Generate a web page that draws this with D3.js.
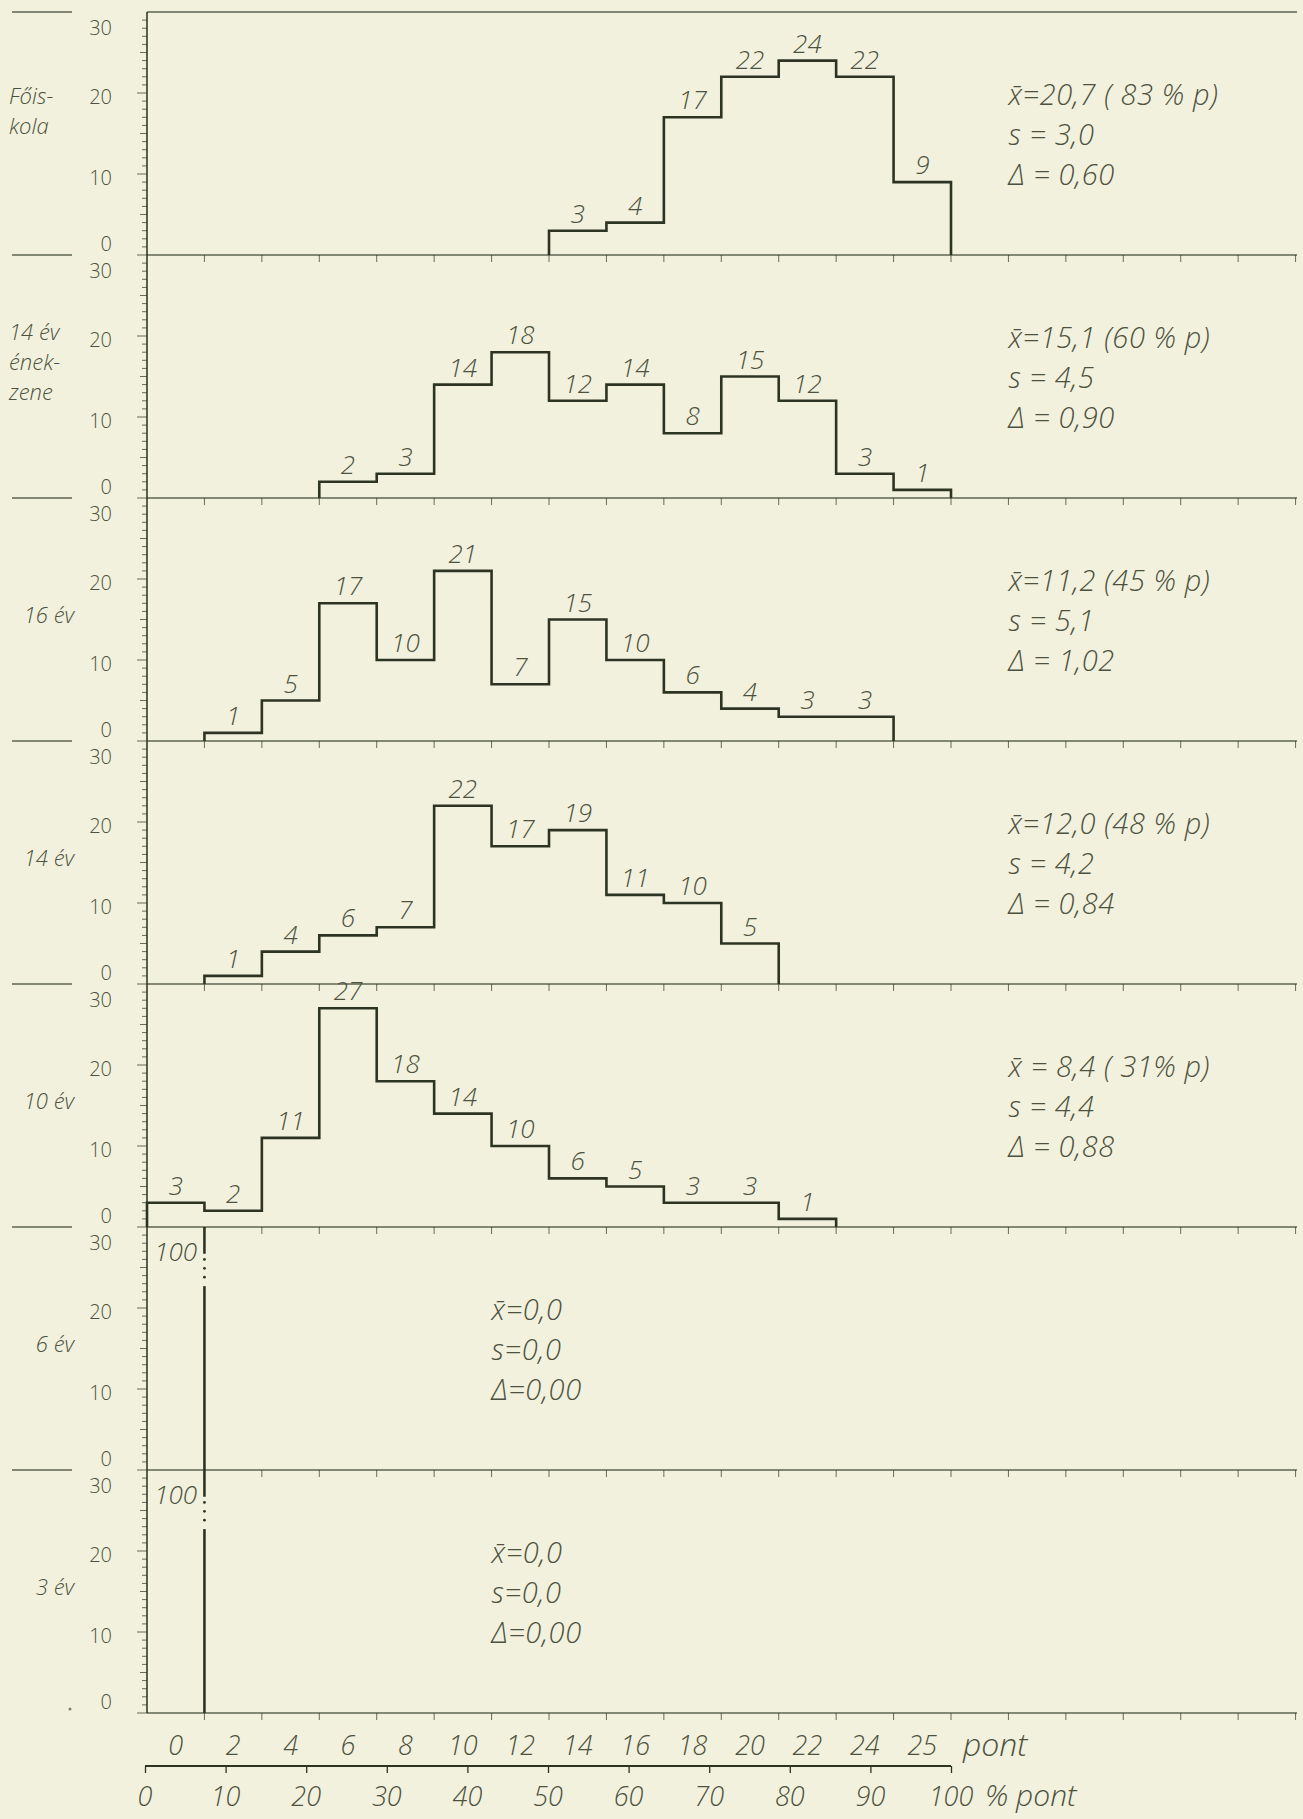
<!DOCTYPE html>
<html>
<head>
<meta charset="utf-8">
<script src="https://cdn.jsdelivr.net/npm/d3@7"></script>
<style>
	body { margin: 0; background: #f1f1dd; }
	svg { display: block; }
	text { font-family: "Open Sans", "DejaVu Sans", sans-serif; fill: #4d5240; }
</style>
</head>
<body>
<div id="chart"></div>
<script>

///////////////////////////////////////////////////////////////////////////
//////////////////////////////// The data /////////////////////////////////
///////////////////////////////////////////////////////////////////////////

var groupLabels = [["Főis-", "kola"], ["14 év", "ének-", "zene"], ["16 év"], ["14 év"], ["10 év"], ["6 év"], ["3 év"]];
//first score class of every histogram
var startClass = [7, 3, 1, 1, 0, 0, 0];
//percentages per score class
var counts = [
	[3, 4, 17, 22, 24, 22, 9],
	[2, 3, 14, 18, 12, 14, 8, 15, 12, 3, 1],
	[1, 5, 17, 10, 21, 7, 15, 10, 6, 4, 3, 3],
	[1, 4, 6, 7, 22, 17, 19, 11, 10, 5],
	[3, 2, 11, 27, 18, 14, 10, 6, 5, 3, 3, 1],
	[100],
	[100]
];
var meanLabels = ["=20,7 ( 83 % p)", "=15,1 (60 % p)", "=11,2 (45 % p)", "=12,0 (48 % p)", " = 8,4 ( 31% p)", "=0,0", "=0,0"];
var sdLabels = ["s = 3,0", "s = 4,5", "s = 5,1", "s = 4,2", "s = 4,4", "s=0,0", "s=0,0"];
var deltaLabels = ["Δ = 0,60", "Δ = 0,90", "Δ = 1,02", "Δ = 0,84", "Δ = 0,88", "Δ=0,00", "Δ=0,00"];

var scoreLabels = ["0", "2", "4", "6", "8", "10", "12", "14", "16", "18", "20", "22", "24", "25"];
var percentTicks = [0, 10, 20, 30, 40, 50, 60, 70, 80, 90, 100];
var yTickLabels = [0, 10, 20, 30];

///////////////////////////////////////////////////////////////////////////
//////////////////// Set up and initiate svg container ////////////////////
///////////////////////////////////////////////////////////////////////////

var width = 1303,
	height = 1819;
var top0 = 12,
	panelH = 243,
	axisX = 147,
	rightEnd = 1297;
var lineCol = "#2e3424";

var svg = d3.select("#chart").append("svg")
	.attr("width", width)
	.attr("height", height);

svg.append("rect")
	.attr("width", width)
	.attr("height", height)
	.style("fill", "#f1f1dd");

//score classes -> x
var x = d3.scaleLinear().domain([0, 14]).range([axisX, 951]);
var xPct = d3.scaleLinear().domain([0, 100]).range([axisX - 2, 951]);

var nClass = Math.floor(x.invert(rightEnd));

//top line
svg.append("line")
	.attr("x1", axisX).attr("x2", rightEnd)
	.attr("y1", top0).attr("y2", top0)
	.style("stroke", lineCol).style("stroke-width", 1.4).style("opacity", 0.75);
svg.append("line")
	.attr("x1", 12).attr("x2", 72)
	.attr("y1", top0).attr("y2", top0)
	.style("stroke", lineCol).style("stroke-width", 1.4).style("opacity", 0.75);

///////////////////////////////////////////////////////////////////////////
/////////////////////////////// The panels ////////////////////////////////
///////////////////////////////////////////////////////////////////////////

counts.forEach(function(vals, i) {

	var top = top0 + i * panelH;
	var y = d3.scaleLinear().domain([0, 30]).range([top + panelH, top]);
	var g = svg.append("g").attr("class", "panel");
	var last = i === counts.length - 1;

	//Zero line
	g.append("line")
		.attr("x1", axisX).attr("x2", rightEnd)
		.attr("y1", y(0)).attr("y2", y(0))
		.style("stroke", lineCol).style("stroke-width", 1.4).style("opacity", 0.75);

	//Class boundary ticks
	g.selectAll(".ctick")
		.data(d3.range(1, nClass + 1))
		.enter().append("line")
		.attr("x1", function(d) { return x(d); })
		.attr("x2", function(d) { return x(d); })
		.attr("y1", y(0))
		.attr("y2", y(0) + 7)
		.style("stroke", lineCol).style("stroke-width", 1).style("opacity", 0.7);

	//Dash or dot at the left
	if (!last) {
		g.append("line")
			.attr("x1", 12).attr("x2", 72)
			.attr("y1", y(0)).attr("y2", y(0))
			.style("stroke", lineCol).style("stroke-width", 1.4).style("opacity", 0.75);
	} else {
		g.append("circle")
			.attr("cx", 70).attr("cy", y(0) - 4).attr("r", 1.5)
			.style("fill", lineCol).style("opacity", 0.6);
	}

	//Minor y ticks
	g.selectAll(".ytick")
		.data(d3.range(0, 30))
		.enter().append("line")
		.attr("x1", axisX)
		.attr("x2", function(d) { return axisX - (d % 10 === 0 ? 10 : d % 5 === 0 ? 7 : 5); })
		.attr("y1", function(d) { return y(d); })
		.attr("y2", function(d) { return y(d); })
		.style("stroke", lineCol).style("stroke-width", 1).style("opacity", 0.7);

	//y tick labels
	g.selectAll(".ylab")
		.data(yTickLabels)
		.enter().append("text")
		.attr("x", 112)
		.attr("y", function(d) { return y(d); })
		.attr("dy", function(d) { return d === 30 ? "1.15em" : d === 0 ? "-0.2em" : "0.55em"; })
		.style("text-anchor", "end")
		.style("font-size", "20px")
		.style("font-weight", 300)
		.text(function(d) { return d; });

	//Group label
	var lines = groupLabels[i];
	var lh = 30;
	var midY = top + (i === 0 ? 99 : i === 1 ? 107 : 117);
	g.selectAll(".glab")
		.data(lines)
		.enter().append("text")
		.attr("x", lines.length > 1 ? 9 : 74)
		.attr("y", function(d, j) { return midY + (j - (lines.length - 1) / 2) * lh; })
		.attr("dy", "0.35em")
		.style("text-anchor", lines.length > 1 ? "start" : "end")
		.style("font-size", "22px")
		.style("font-style", "italic")
		.style("font-weight", 300)
		.text(function(d) { return d; });

	//Histogram
	var s = startClass[i];
	var offScale = d3.max(vals) > 30;

	if (!offScale) {
		var pts = [[s, 0]];
		vals.forEach(function(v, k) {
			pts.push([s + k, v]);
			pts.push([s + k + 1, v]);
		});
		pts.push([s + vals.length, 0]);

		g.append("path")
			.attr("d", d3.line()
				.x(function(d) { return x(d[0]); })
				.y(function(d) { return y(d[1]); })(pts))
			.style("fill", "none")
			.style("stroke", lineCol)
			.style("stroke-width", 2.6)
			.style("stroke-linejoin", "miter");

		g.selectAll(".vlab")
			.data(vals)
			.enter().append("text")
			.attr("x", function(d, k) { return x(s + k + 0.5); })
			.attr("y", function(d) { return y(d) - 8; })
			.style("text-anchor", "middle")
			.style("font-size", "26px")
			.style("font-style", "italic")
			.style("font-weight", 300)
			.text(function(d) { return d; });
	} else {
		//broken bar: value runs beyond the scale
		var bx = x(s + 1);
		g.append("line")
			.attr("x1", bx).attr("x2", bx)
			.attr("y1", y(0)).attr("y2", y(22.7))
			.style("stroke", lineCol).style("stroke-width", 2.6);
		g.append("line")
			.attr("x1", bx).attr("x2", bx)
			.attr("y1", y(26.7)).attr("y2", y(30))
			.style("stroke", lineCol).style("stroke-width", 2.6);
		g.selectAll(".brk")
			.data([23.8, 24.9, 26])
			.enter().append("circle")
			.attr("cx", bx)
			.attr("cy", function(d) { return y(d); })
			.attr("r", 1.4)
			.style("fill", lineCol);
		g.append("text")
			.attr("x", x(s + 0.5))
			.attr("y", y(30) + 34)
			.style("text-anchor", "middle")
			.style("font-size", "26px")
			.style("font-style", "italic")
			.style("font-weight", 300)
			.text(vals[0]);
	}

	//Statistics
	var statX = offScale ? x(6) : x(15);
	var statY = top + 93;
	var stats = g.append("g").attr("class", "stats")
		.style("font-size", "29px")
		.style("letter-spacing", "0.6px")
		.style("font-style", "italic")
		.style("font-weight", 300);
	stats.append("text")
		.attr("x", statX).attr("y", statY)
		.text("x\u0304" + meanLabels[i]);
	stats.append("text")
		.attr("x", statX).attr("y", statY + 40)
		.text(sdLabels[i]);
	stats.append("text")
		.attr("x", statX).attr("y", statY + 80)
		.text(deltaLabels[i]);
});

///////////////////////////////////////////////////////////////////////////
////////////////////////////// The y axis line ////////////////////////////
///////////////////////////////////////////////////////////////////////////

svg.append("line")
	.attr("x1", axisX).attr("x2", axisX)
	.attr("y1", top0).attr("y2", top0 + counts.length * panelH)
	.style("stroke", lineCol).style("stroke-width", 1.8).style("opacity", 0.85);

///////////////////////////////////////////////////////////////////////////
//////////////////////////// The bottom scales ////////////////////////////
///////////////////////////////////////////////////////////////////////////

var bottom = top0 + counts.length * panelH;

svg.selectAll(".slab")
	.data(scoreLabels)
	.enter().append("text")
	.attr("x", function(d, k) { return x(k + 0.5); })
	.attr("y", bottom + 42)
	.style("text-anchor", "middle")
	.style("font-size", "27px")
	.style("font-style", "italic")
	.style("font-weight", 300)
	.text(function(d) { return d; });

svg.append("text")
	.attr("x", x(14) + 12)
	.attr("y", bottom + 43)
	.style("font-size", "32px")
	.style("font-style", "italic")
	.style("font-weight", 300)
	.text("pont");

//Percentage axis
var pctY = bottom + 53;
var pctAxis = svg.append("g")
	.attr("transform", "translate(0," + pctY + ")")
	.call(d3.axisBottom(xPct).tickValues(percentTicks).tickSize(7).tickFormat(""));
pctAxis.select(".domain").remove();
pctAxis.selectAll("line").style("stroke", lineCol).style("stroke-width", 1.3);
svg.append("line")
	.attr("x1", xPct(0)).attr("x2", xPct(100))
	.attr("y1", pctY).attr("y2", pctY)
	.style("stroke", lineCol).style("stroke-width", 2);

svg.selectAll(".plab")
	.data(percentTicks)
	.enter().append("text")
	.attr("x", function(d) { return xPct(d); })
	.attr("y", pctY + 40)
	.style("text-anchor", "middle")
	.style("font-size", "27px")
	.style("font-style", "italic")
	.style("font-weight", 300)
	.text(function(d) { return d; });

svg.append("text")
	.attr("x", xPct(100) + 34)
	.attr("y", pctY + 40)
	.style("font-size", "30px")
	.style("font-style", "italic")
	.style("font-weight", 300)
	.text("% pont");

</script>
</body>
</html>
